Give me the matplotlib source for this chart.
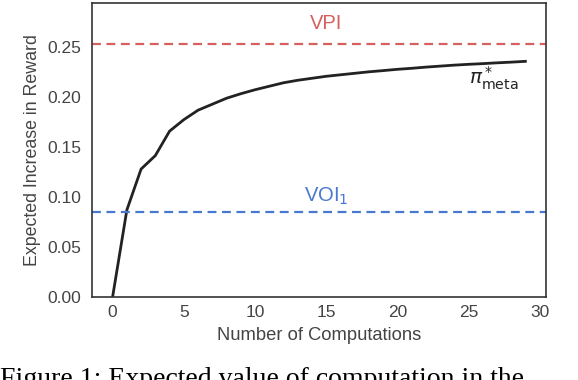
import matplotlib
matplotlib.use("Agg")
import matplotlib.pyplot as plt

# data
computations = list(range(30))
reward = [0.0, 0.087, 0.128, 0.1415, 0.166, 0.1775, 0.187, 0.193, 0.199, 0.2035,
          0.2075, 0.211, 0.2145, 0.217, 0.219, 0.221, 0.2225, 0.224, 0.2255, 0.2267,
          0.228, 0.229, 0.2302, 0.2312, 0.2322, 0.233, 0.2337, 0.2345, 0.2352, 0.236]
vpi = 0.2535
voi1 = 0.085

TEXT = "#444444"
plt.rcParams["font.family"] = ["Liberation Sans", "DejaVu Sans"]
plt.rcParams["mathtext.fontset"] = "dejavusans"

fig = plt.figure(figsize=(5.78, 3.80), dpi=100)
ax = fig.add_axes([92 / 578, 1 - 296.7 / 380, 454 / 578, 293.7 / 380])

ax.plot(computations, reward, color="#222222", lw=2)
ax.axhline(vpi, color="#d65f5f", lw=1.6, ls=(0, (4, 2.5)))
ax.axhline(voi1, color="#4878d0", lw=1.6, ls=(0, (4, 2.5)))

ax.text(15, 0.274, "VPI", color="#d65f5f", fontsize=14.5, ha="center", va="center")
ax.text(15, 0.101, r"VOI$_1$", color="#4878d0", fontsize=14.5, ha="center", va="center")
ax.text(26.8, 0.219, r"$\pi^*_{\mathrm{meta}}$", color="#222222", fontsize=14.5,
        ha="center", va="center")

ax.set_ylim(0, 0.2945)
ax.set_xticks([0, 5, 10, 15, 20, 25, 30])
ax.set_yticks([0.0, 0.05, 0.10, 0.15, 0.20, 0.25])
ax.set_yticklabels(["0.00", "0.05", "0.10", "0.15", "0.20", "0.25"])
ax.tick_params(length=0, labelsize=12.5, labelcolor=TEXT)
ax.tick_params(axis="x", pad=6)
ax.tick_params(axis="y", pad=8)
ax.set_xlabel("Number of Computations", fontsize=13.2, color=TEXT, labelpad=5)
ax.set_ylabel("Expected Increase in Reward", fontsize=12.8, color=TEXT, labelpad=4)
for s in ax.spines.values():
    s.set_color("#333333")
    s.set_linewidth(1.2)

fig.text(0.0, 1 - 386.5 / 380, "Figure 1: Expected value of computation in the",
         family="Liberation Serif", fontsize=20, color="black", va="baseline")

fig.savefig("out.png", dpi=100)
